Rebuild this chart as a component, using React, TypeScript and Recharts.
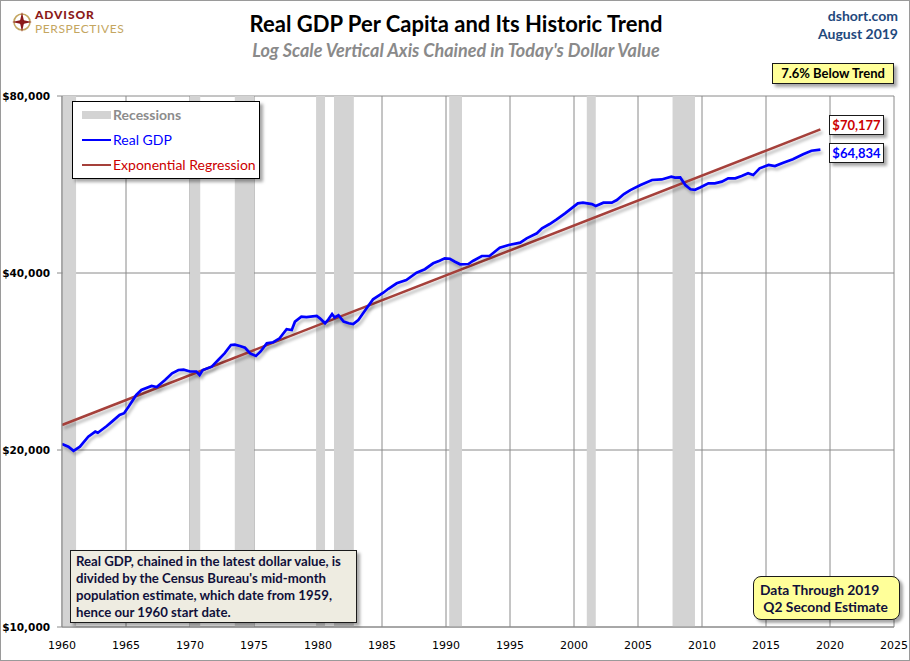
import {
  CartesianGrid,
  Line,
  LineChart,
  ReferenceArea,
  XAxis,
  YAxis,
} from "recharts";

const GDP_YEARS = [
  1960.0, 1960.5, 1960.9, 1961.4, 1962.05, 1962.6, 1962.8, 1963.5, 1963.9, 1964.5,
  1964.85, 1965.2, 1965.8, 1966.2, 1967.0, 1967.4, 1968.05, 1968.6, 1969.1, 1969.5,
  1970.0, 1970.5, 1970.75, 1971.0, 1971.7, 1972.2, 1972.7, 1973.2, 1973.5, 1973.9,
  1974.3, 1974.7, 1975.15, 1975.5, 1976.0, 1976.5, 1977.0, 1977.55, 1977.95, 1978.2,
  1978.7, 1979.1, 1979.9, 1980.15, 1980.55, 1980.8, 1981.1, 1981.3, 1981.6, 1982.0,
  1982.4, 1982.75, 1983.15, 1983.7, 1984.3, 1985.1, 1985.5, 1986.15, 1986.9, 1987.7,
  1988.35, 1989.0, 1989.5, 1989.9, 1990.3, 1990.7, 1991.1, 1991.75, 1992.1, 1992.8,
  1993.4, 1994.2, 1994.9, 1995.8, 1996.3, 1997.1, 1997.5, 1998.1, 1998.65, 1999.3,
  1999.8, 2000.3, 2000.7, 2001.4, 2001.7, 2002.3, 2002.95, 2003.35, 2003.9, 2004.4,
  2005.2, 2006.1, 2006.85, 2007.6, 2007.9, 2008.3, 2008.7, 2009.1, 2009.45, 2009.85,
  2010.5, 2011.0, 2011.55, 2012.05, 2012.6, 2013.1, 2013.6, 2014.0, 2014.5, 2015.2,
  2015.7, 2016.35, 2017.1, 2017.9, 2018.55, 2019.25,
];

const GDP_VALUES = [
  20480, 20260, 19930, 20260, 21070, 21490, 21400, 21970, 22350, 22940,
  23100, 23700, 24810, 25300, 25700, 25600, 26310, 27010, 27360, 27400,
  27200, 27200, 26830, 27360, 27720, 28450, 29200, 30170, 30220, 30050,
  29850, 29200, 28900, 29390, 30370, 30500, 30970, 32090, 32000, 33060,
  33710, 33650, 33800, 33500, 32850, 33330, 34060, 33600, 33900, 33060,
  32850, 32750, 33280, 34600, 36080, 37030, 37600, 38420, 38900, 40050,
  40600, 41550, 41980, 42370, 42300, 41800, 41390, 41430, 41930, 42750,
  42750, 44160, 44640, 45050, 45820, 46730, 47650, 48460, 49360, 50520,
  51530, 52550, 52680, 52400, 52000, 52680, 52680, 53230, 54500, 55350,
  56460, 57570, 57700, 58330, 58100, 58150, 56460, 55510, 55400, 55900,
  56840, 56840, 57200, 57950, 57950, 58500, 59110, 58700, 60270, 61060,
  60800, 61610, 62430, 63660, 64570, 64834,
];

// regression endpoints (straight on a log axis)
const TREND_YEARS = [1960.0, 2019.25];
const TREND_VALUES = [22060, 70177];

const RECESSION_START = [1960.05, 1970.0, 1973.5, 1979.85, 1981.25, 1990.25, 2001.0, 2007.7];
const RECESSION_END = [1961.1, 1970.8, 1975.0, 1980.55, 1982.8, 1991.25, 2001.7, 2009.45];

const X_TICKS = [1960, 1965, 1970, 1975, 1980, 1985, 1990, 1995, 2000, 2005, 2010, 2015, 2020, 2025];
const Y_TICKS = [10000, 20000, 40000, 80000];

const GDP_COLOR = "#0000ff";
const TREND_COLOR = "#a5403a";
const GRID_COLOR = "#8a8a8a";
const BOX_FONT = "Lato, 'Open Sans', sans-serif";
const BOX_SHADOW = "3px 3px 3px rgba(0,0,0,0.35)";

const gdpData = GDP_YEARS.map((year, i) => ({ year, gdp: GDP_VALUES[i] }));
const trendData = TREND_YEARS.map((year, i) => ({ year, trend: TREND_VALUES[i] }));

const fmtDollar = (v: number) => `$${v.toLocaleString("en-US")}`;

function Logo() {
  return (
    <div style={{ position: "absolute", left: 10, top: 7, display: "flex", alignItems: "center" }}>
      <svg width={22} height={22} viewBox="0 0 22 22">
        <circle cx={11} cy={11} r={8} fill="none" stroke="#c4a660" strokeWidth={1.6} />
        <polygon
          points="11,1 12.8,9.2 21,11 12.8,12.8 11,21 9.2,12.8 1,11 9.2,9.2"
          fill="#8b1a1a"
        />
        <circle cx={11} cy={11} r={2.5} fill="#8b1a1a" />
      </svg>
      <div style={{ marginLeft: 2, fontFamily: "Lato, sans-serif" }}>
        <div style={{ color: "#8b1a1a", fontWeight: 900, fontSize: 12, lineHeight: "14px", height: 14, letterSpacing: 0.9 }}>
          ADVISOR
        </div>
        <div style={{ color: "#c4a660", fontWeight: 400, fontSize: 12, lineHeight: "14px", height: 14, letterSpacing: 0.6 }}>
          PERSPECTIVES
        </div>
      </div>
    </div>
  );
}

function LegendBox() {
  const row = { display: "flex", alignItems: "center", height: 25 } as const;
  const swatch = { width: 29, marginRight: 2 } as const;
  return (
    <div
      style={{
        position: "absolute",
        left: 71,
        top: 100,
        width: 188,
        height: 78,
        boxSizing: "border-box",
        background: "#fff",
        border: "1px solid #000",
        boxShadow: BOX_SHADOW,
        fontFamily: BOX_FONT,
        fontSize: 14,
        padding: "0 0 0 9px",
      }}
    >
      <div style={row}>
        <div style={{ ...swatch, height: 8, background: "#d3d3d3" }} />
        <span style={{ color: "#8c8c8c", fontWeight: 700 }}>Recessions</span>
      </div>
      <div style={row}>
        <div style={{ ...swatch, height: 2, background: GDP_COLOR }} />
        <span style={{ color: GDP_COLOR }}>Real GDP</span>
      </div>
      <div style={row}>
        <div style={{ ...swatch, height: 2, background: TREND_COLOR }} />
        <span style={{ color: "#cc0000" }}>Exponential Regression</span>
      </div>
    </div>
  );
}

function Tag(props: {
  left: number;
  top: number;
  width: number;
  height: number;
  bg: string;
  color: string;
  radius?: number;
  align?: "center" | "left";
  fontSize?: number;
  pad?: number;
  children: React.ReactNode;
}) {
  return (
    <div
      style={{
        position: "absolute",
        left: props.left,
        top: props.top,
        width: props.width,
        height: props.height,
        boxSizing: "border-box",
        background: props.bg,
        color: props.color,
        border: "1px solid #1a1a1a",
        borderRadius: props.radius ?? 0,
        boxShadow: BOX_SHADOW,
        fontFamily: BOX_FONT,
        fontSize: props.fontSize ?? 13,
        fontWeight: 700,
        display: "flex",
        flexDirection: "column",
        justifyContent: "center",
        alignItems: props.align === "left" ? "flex-start" : "center",
        lineHeight: "17px",
        padding: props.align === "left" ? `0 ${props.pad ?? 6}px` : 0,
        whiteSpace: "pre",
      }}
    >
      {props.children}
    </div>
  );
}

export default function App() {
  return (
    <div
      style={{
        position: "absolute",
        left: 0,
        top: 0,
        width: 910,
        height: 661,
        boxSizing: "border-box",
        border: "1px solid #9a9a9a",
        background: "#fff",
        overflow: "hidden",
      }}
    >
      <svg width={0} height={0} style={{ position: "absolute" }}>
        <defs>
          <filter id="lineShadow" x="-5%" y="-5%" width="110%" height="120%">
            <feDropShadow dx={2} dy={3} stdDeviation={1.5} floodColor="#000" floodOpacity={0.28} />
          </filter>
        </defs>
      </svg>

      <div style={{ position: "absolute", left: -1, top: -1 }}>
        <LineChart width={910} height={661} margin={{ top: 96, right: 16, bottom: 4, left: 0 }}>
          {RECESSION_START.map((x1, i) => (
            <ReferenceArea
              key={x1}
              x1={x1}
              x2={RECESSION_END[i]}
              fill="#d3d3d3"
              fillOpacity={1}
              stroke="none"
              ifOverflow="hidden"
            />
          ))}
          <CartesianGrid stroke={GRID_COLOR} strokeWidth={1} />
          <XAxis
            dataKey="year"
            type="number"
            domain={[1960, 2025]}
            ticks={X_TICKS}
            allowDataOverflow
            height={30}
            stroke={GRID_COLOR}
            tickLine={false}
            tickMargin={8}
            tick={{ fontSize: 11, fill: "#000", fontFamily: "'DejaVu Sans', sans-serif" }}
          />
          <YAxis
            type="number"
            scale="log"
            domain={[10000, 80000]}
            ticks={Y_TICKS}
            allowDataOverflow
            width={62}
            stroke={GRID_COLOR}
            tickSize={5}
            tickMargin={7}
            tickFormatter={fmtDollar}
            tick={{ fontSize: 10.5, fill: "#000", fontWeight: 700, fontFamily: "'DejaVu Sans', sans-serif" }}
          />
          <Line
            data={trendData}
            dataKey="trend"
            type="linear"
            stroke={TREND_COLOR}
            strokeWidth={2.5}
            dot={false}
            isAnimationActive={false}
            style={{ filter: "url(#lineShadow)" }}
          />
          <Line
            data={gdpData}
            dataKey="gdp"
            type="linear"
            stroke={GDP_COLOR}
            strokeWidth={2.7}
            dot={false}
            isAnimationActive={false}
            style={{ filter: "url(#lineShadow)" }}
          />
        </LineChart>
      </div>

      <Logo />

      <div
        style={{
          position: "absolute",
          left: 0,
          width: 910,
          top: 9,
          textAlign: "center",
          fontFamily: BOX_FONT,
          fontWeight: 700,
          fontSize: 22,
          color: "#000",
        }}
      >
        Real GDP Per Capita and Its Historic Trend
      </div>
      <div
        style={{
          position: "absolute",
          left: 0,
          width: 910,
          top: 38,
          textAlign: "center",
          fontFamily: BOX_FONT,
          fontWeight: 700,
          fontStyle: "italic",
          fontSize: 18,
          color: "#8a8a8a",
        }}
      >
        Log Scale Vertical Axis Chained in Today's Dollar Value
      </div>
      <div
        style={{
          position: "absolute",
          right: 11,
          top: 6,
          textAlign: "right",
          fontFamily: BOX_FONT,
          fontWeight: 700,
          fontSize: 14,
          lineHeight: "18px",
          color: "#1f497d",
        }}
      >
        <div>dshort.com</div>
        <div>August 2019</div>
      </div>

      <LegendBox />

      <Tag left={771} top={62} width={122} height={21} bg="#ffff99" color="#000">
        7.6% Below Trend
      </Tag>
      <Tag left={828} top={114} width={55} height={20} bg="#fff" color="#cc0000">
        {fmtDollar(TREND_VALUES[TREND_VALUES.length - 1])}
      </Tag>
      <Tag left={828} top={142} width={55} height={20} bg="#fff" color={GDP_COLOR}>
        {fmtDollar(GDP_VALUES[GDP_VALUES.length - 1])}
      </Tag>

      <Tag
        left={69}
        top={549}
        width={287}
        height={73}
        bg="#eeece1"
        color="#10103a"
        align="left"
        fontSize={13.2}
        pad={5}
      >
        <div>Real GDP, chained in the latest dollar value, is</div>
        <div>divided by the Census Bureau's mid-month</div>
        <div>population estimate, which date from 1959,</div>
        <div>hence our 1960 start date.</div>
      </Tag>

      <Tag
        left={752}
        top={575}
        width={147}
        height={44}
        bg="#ffff99"
        color="#10103a"
        radius={8}
        align="left"
        pad={6}
        fontSize={13.8}
      >
        <div>Data Through 2019</div>
        <div> Q2 Second Estimate</div>
      </Tag>
    </div>
  );
}
